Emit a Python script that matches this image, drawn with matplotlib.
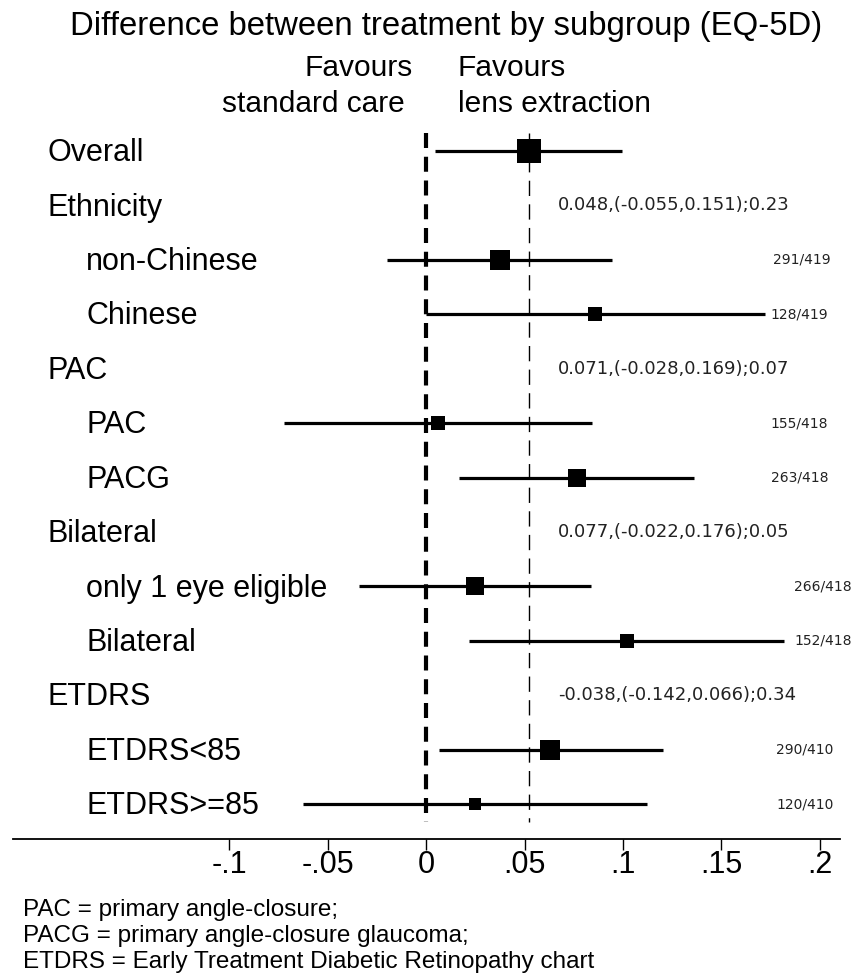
import numpy as np
import matplotlib
matplotlib.use("Agg")
import matplotlib.pyplot as plt

# ── Data ───────────────────────────────────────────────────────────────
labels = ["Overall", "Ethnicity", "non-Chinese", "Chinese", "PAC", "PAC", "PACG",
          "Bilateral", "only 1 eye eligible", "Bilateral", "ETDRS", "ETDRS<85", "ETDRS>=85"]
indent = [0, 0, 1, 1, 0, 1, 1, 0, 1, 1, 0, 1, 1]
est = [0.052, np.nan, 0.0376, 0.0858, np.nan, 0.0059, 0.0765,
       np.nan, 0.0249, 0.102, np.nan, 0.063, 0.0249]
lo = [0.0046, np.nan, -0.0197, 0.0, np.nan, -0.0725, 0.0166,
      np.nan, -0.034, 0.0218, np.nan, 0.0063, -0.0626]
hi = [0.0994, np.nan, 0.0945, 0.172, np.nan, 0.0843, 0.136,
      np.nan, 0.0838, 0.1818, np.nan, 0.1204, 0.1122]
n_sub = [419, None, 291, 128, None, 155, 263, None, 266, 152, None, 290, 120]
n_tot = [419, None, 419, 419, None, 418, 418, None, 418, 418, None, 410, 410]
interaction = {1: "0.048,(-0.055,0.151);0.23",
               4: "0.071,(-0.028,0.169);0.07",
               7: "0.077,(-0.022,0.176);0.05",
               10: "-0.038,(-0.142,0.066);0.34"}
overall_est = est[0]
ticks = [-0.1, -0.05, 0, 0.05, 0.1, 0.15, 0.2]
tick_labels = ["-.1", "-.05", "0", ".05", ".1", ".15", ".2"]
footnotes = ["PAC = primary angle-closure;",
             "PACG = primary angle-closure glaucoma;",
             "ETDRS = Early Treatment Diabetic Retinopathy chart"]

# layout of the n/N column (Stata put them a bit ragged)
n_text_x = [None, None, 0.176, 0.175, None, 0.175, 0.175, None, 0.187, 0.187, None, 0.178, 0.178]

SANS = "Liberation Sans"
W, H = 860, 974
fig = plt.figure(figsize=(W / 100, H / 100), dpi=100)
ax = fig.add_axes([13 / W, 1 - 839 / H, 827 / W, (839 - 120) / H])

rows = np.arange(len(labels))
ax.set_xlim(-0.21, 0.2103)
ax.set_ylim(12.643, -0.57)

# reference lines (null and overall estimate)
y_span = [-0.33, rows[-1] + 0.33]
ax.plot([0, 0], y_span, color="black", linewidth=3.0, linestyle=(0, (3.6, 2.1)))
ax.plot([overall_est, overall_est], y_span, color="black", linewidth=1.0,
        linestyle=(0, (11, 6)))

for i in rows:
    if np.isnan(est[i]):
        continue
    ax.plot([lo[i], hi[i]], [i, i], color="black", linewidth=2.3, solid_capstyle="butt")
    side_px = 1.16 * np.sqrt(n_sub[i])
    ax.plot(est[i], i, marker="s", color="black", markersize=side_px * 0.72,
            markeredgewidth=0)

# row labels
for i in rows:
    x = -0.1925 if indent[i] == 0 else -0.1727
    ax.text(x, i + 0.04, labels[i], fontsize=22, family=SANS, va="center", ha="left")

# interaction statistics and n/N
for i, s in interaction.items():
    ax.text(0.067, i, s, fontsize=13, family="DejaVu Sans", va="center", ha="left",
            color="#222222")
for i in rows:
    if n_sub[i] is None or i == 0:
        continue
    ax.text(n_text_x[i], i, f"{n_sub[i]}/{n_tot[i]}", fontsize=10,
            family="DejaVu Sans", va="center", ha="left", color="#222222")

# axes styling
for s in ["top", "right", "left"]:
    ax.spines[s].set_visible(False)
ax.spines["bottom"].set_linewidth(1.3)
ax.set_yticks([])
ax.set_xticks(ticks)
ax.set_xticklabels(tick_labels, fontsize=22, family=SANS)
ax.tick_params(axis="x", direction="out", length=8, width=1.0, pad=0)

# title and favours headers
fig.text(446 / W, 1 - 27 / H, "Difference between treatment by subgroup (EQ-5D)",
         fontsize=23.7, family=SANS, ha="center", va="center")
fig.text(413 / W, 1 - 68 / H, "Favours", fontsize=21.5, family=SANS, ha="right", va="center")
fig.text(405 / W, 1 - 104 / H, "standard care", fontsize=21.5, family=SANS, ha="right", va="center")
fig.text(458 / W, 1 - 68 / H, "Favours", fontsize=21.5, family=SANS, ha="left", va="center")
fig.text(458 / W, 1 - 104 / H, "lens extraction", fontsize=21.5, family=SANS, ha="left", va="center")

for k, line in enumerate(footnotes):
    fig.text(23 / W, 1 - (910 + 26 * k) / H, line, fontsize=17.5, family=SANS,
             ha="left", va="center")

fig.savefig("out.png", dpi=100)
